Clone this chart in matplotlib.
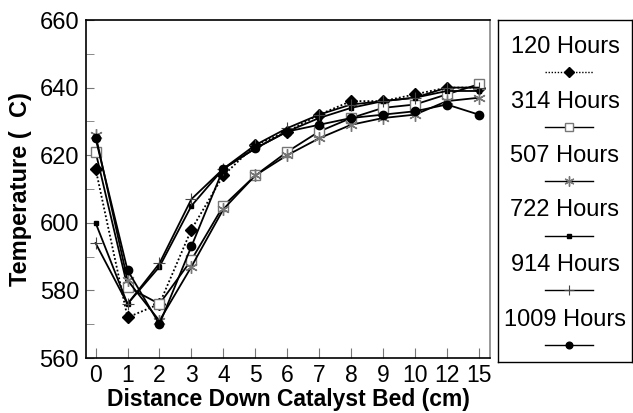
import numpy as np
import matplotlib.pyplot as plt
from matplotlib.ticker import MultipleLocator

plt.rcParams['font.family'] = ['Liberation Sans', 'DejaVu Sans']

# distance down the bed (cm), plotted as evenly spaced categories
distance = ['0', '1', '2', '3', '4', '5', '6', '7', '8', '9', '10', '12', '15']

# temperature readings (C) for each run time
t120 = [616, 572, 576, 598, 614, 623, 627, 632, 636, 636, 638, 640, 640]
t314 = [621, 581, 576, 589, 605, 614, 621, 627, 631, 634, 635, 638, 641]
t507 = [626, 583, 571, 587, 604, 614, 620, 625, 629, 631, 632, 636, 637]
t722 = [600, 576, 587, 605, 616, 622, 627, 631, 634, 636, 637, 639, 639]
t914 = [594, 576, 588, 607, 616, 623, 628, 632, 635, 636, 637, 640, 640]
t1009 = [625, 586, 570, 593, 616, 622, 627, 629, 631, 632, 633, 635, 632]

labels = ['120 Hours', '314 Hours', '507 Hours', '722 Hours', '914 Hours', '1009 Hours']
series = [t120, t314, t507, t722, t914, t1009]

# line / marker styles per series
styles = [
    dict(ls=(0, (1, 1.2)), marker='D', ms=6.5, mfc='black', mec='black'),
    dict(ls='-', marker='s', ms=7.5, mfc='white', mec='#777777', mew=1),
    dict(ls='-', marker=(6, 2, 0), ms=9, mfc='#777777', mec='#777777', mew=1),
    dict(ls='-', marker='s', ms=3, mfc='black', mec='black'),
    dict(ls='-', marker='+', ms=9, mfc='black', mec='#444444', mew=0.8),
    dict(ls='-', marker='o', ms=6, mfc='black', mec='black'),
]

fig = plt.figure(figsize=(6.33, 4.13), dpi=100)
ax = fig.add_axes([86 / 633, 1 - 358 / 413, (490 - 86) / 633, (358 - 20) / 413])

x = np.arange(len(distance))
for vals, st in zip(series, styles):
    ax.plot(x, vals, color='black', lw=1.3, zorder=3, **st)

ax.set_xlim(-0.3, len(distance) - 1 + 0.35)
ax.set_ylim(560, 660)
ax.set_xticks(x)
ax.set_xticklabels(distance)
ax.yaxis.set_major_locator(MultipleLocator(20))
ax.yaxis.set_minor_locator(MultipleLocator(10))
ax.tick_params(axis='both', which='both', direction='in', color='#777777', labelsize=17, pad=5)
ax.tick_params(axis='x', length=7, pad=4, labelsize=16.5)
ax.tick_params(axis='y', which='major', length=6)
ax.tick_params(axis='y', which='minor', length=6)
for s in ax.spines.values():
    s.set_linewidth(1.2)
ax.spines['right'].set_color('#888888')

ax.set_xlabel('Distance Down Catalyst Bed (cm)', fontsize=16.5, fontweight='bold', labelpad=1)
ax.set_ylabel('Temperature (  C)', fontsize=17, fontweight='bold', labelpad=5)

# legend drawn as its own boxed panel on the right
lax = fig.add_axes([498 / 633, 1 - 362 / 413, (632 - 498) / 633, (362 - 20) / 413])
lax.set_xlim(0, 1)
lax.set_ylim(0, 1)
lax.set_xticks([])
lax.set_yticks([])
for s in lax.spines.values():
    s.set_linewidth(1.0)
for i, (lab, st) in enumerate(zip(labels, styles)):
    ytxt = 1 - (27 + 54.5 * i) / 342
    yline = 1 - (52 + 54.5 * i) / 342
    lax.text(0.5, ytxt, lab, ha='center', va='center', fontsize=17)
    lax.plot([0.35, 0.71], [yline, yline], color='black', lw=1.0, ls=st['ls'])
    st2 = {k: v for k, v in st.items() if k != 'ls'}
    st2['ms'] = st['ms'] * 0.8
    lax.plot([0.53], [yline], color='black', ls='none', **st2)

fig.savefig('out.png', dpi=100)
